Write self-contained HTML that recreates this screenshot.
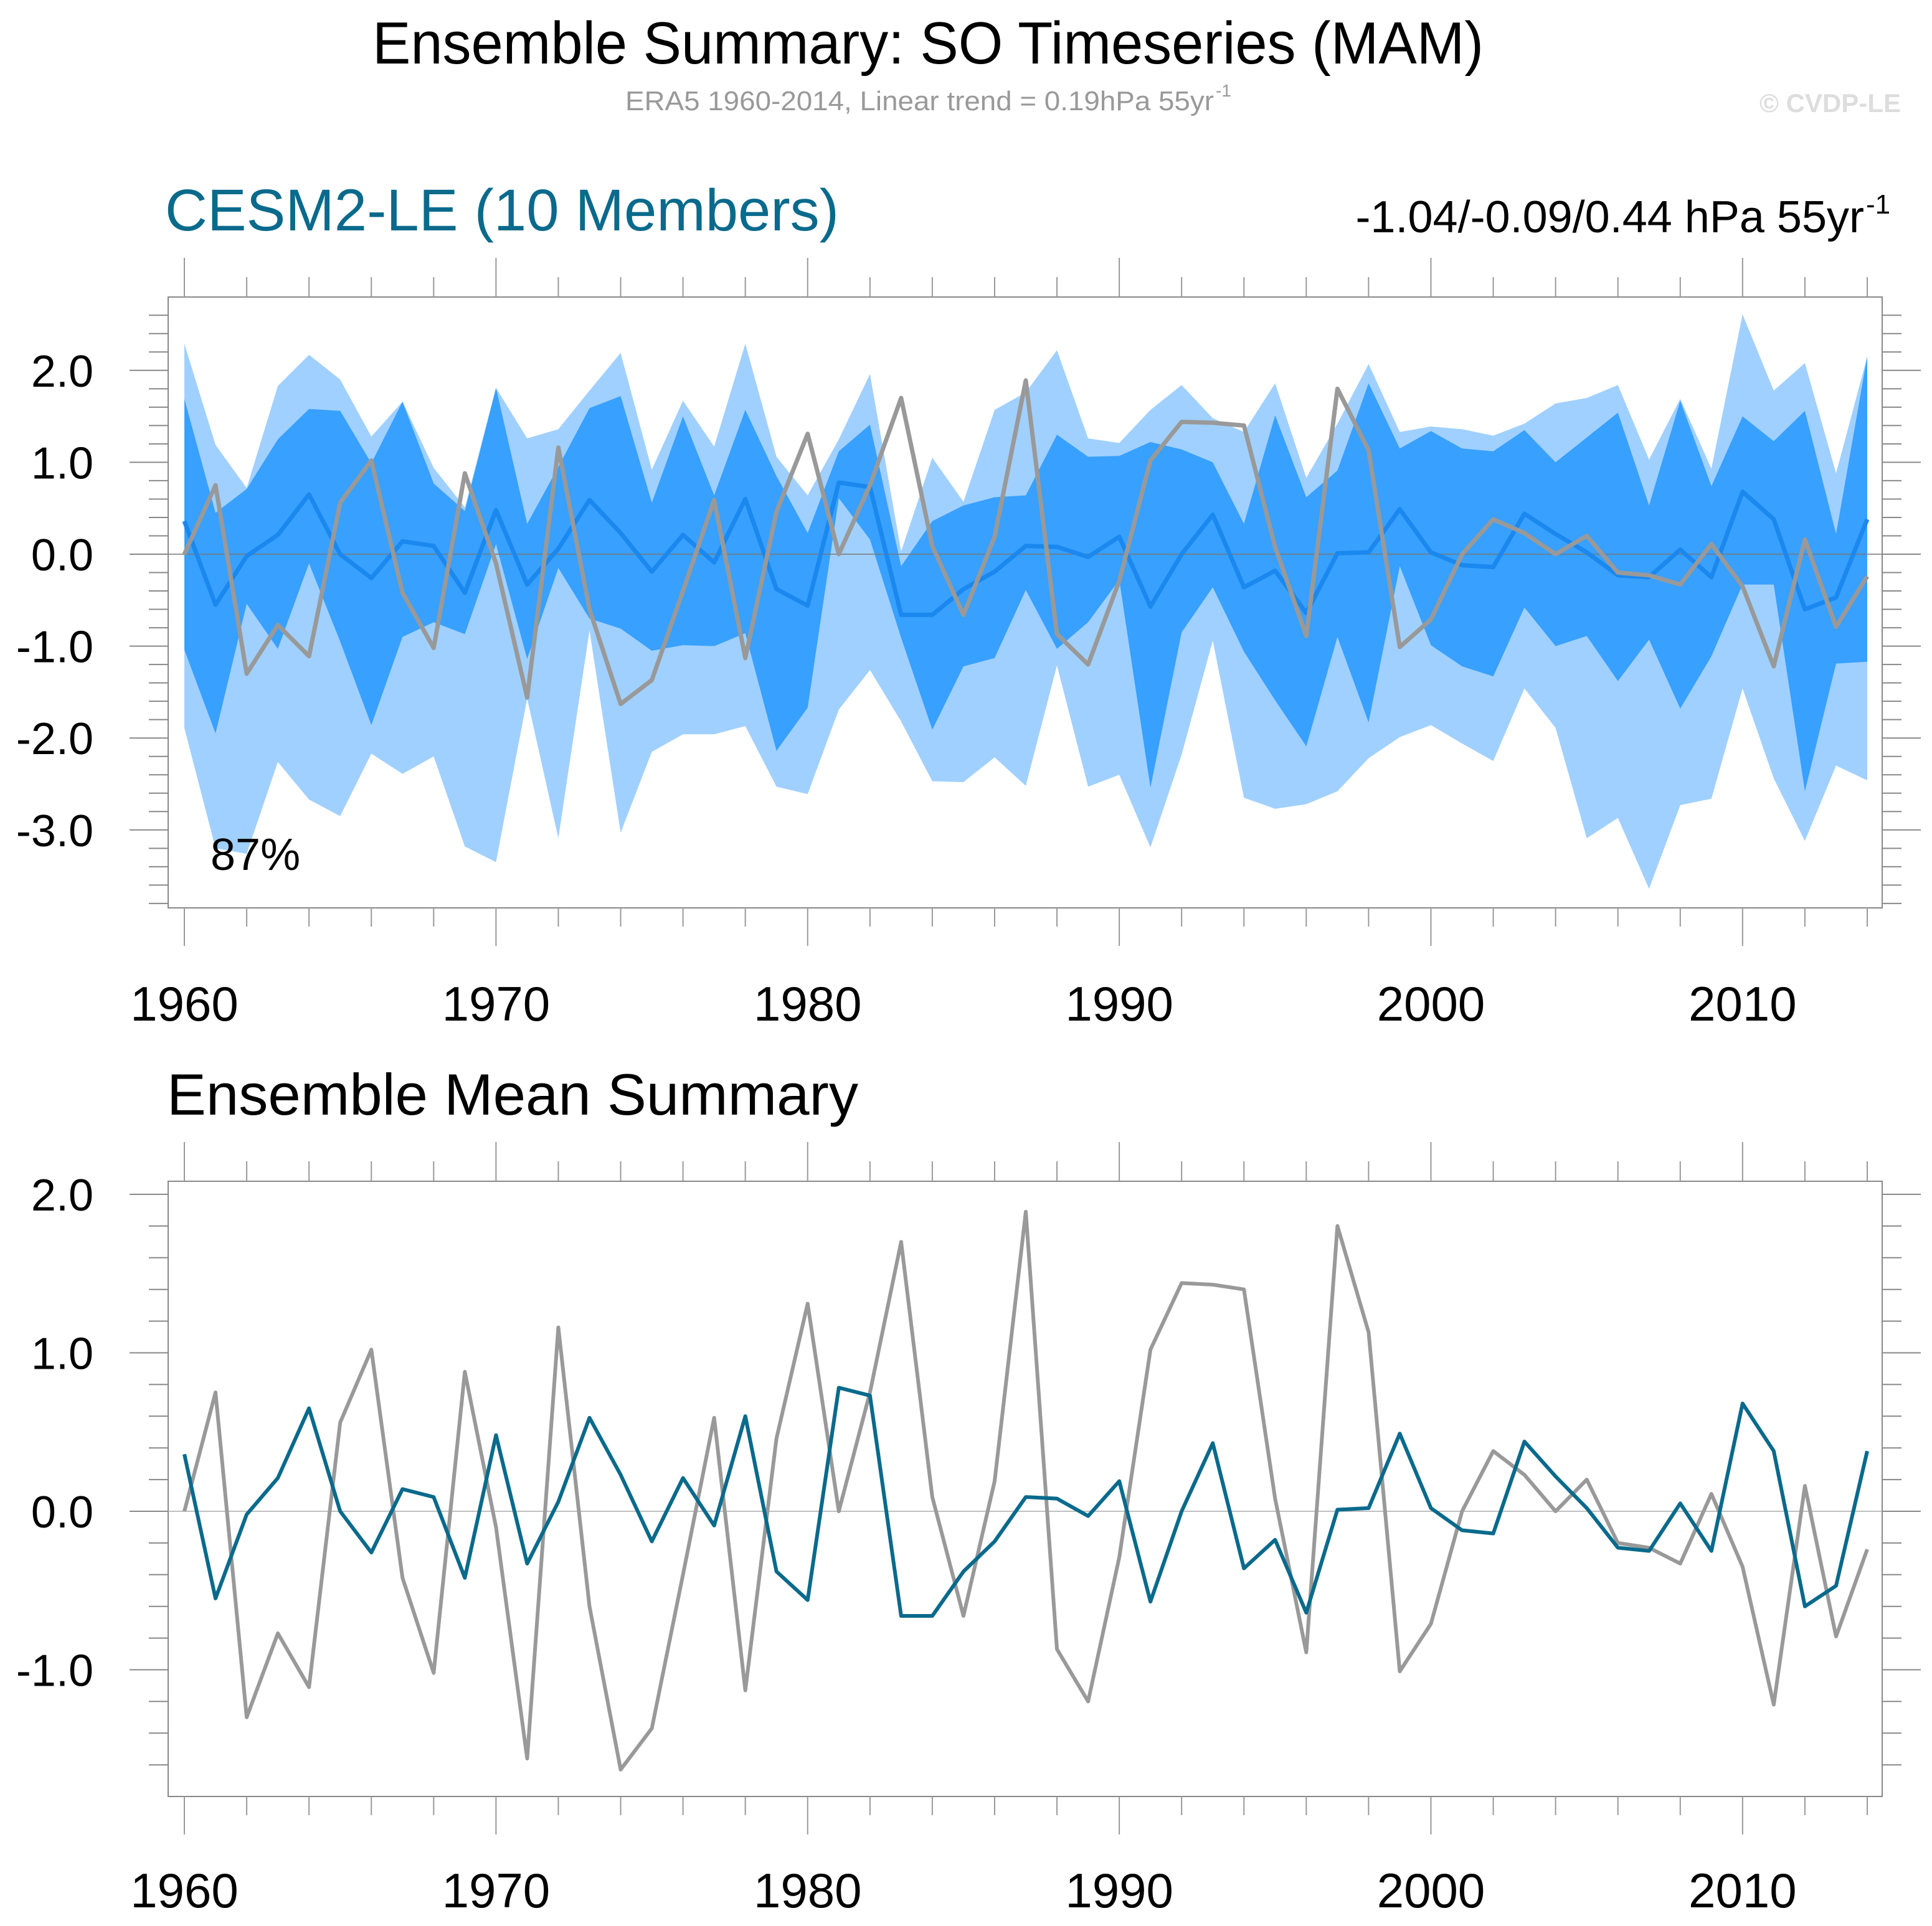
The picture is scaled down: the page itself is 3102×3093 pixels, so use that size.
<!DOCTYPE html>
<html><head><meta charset="utf-8"><style>
html,body{margin:0;padding:0;background:#fff;}
svg{display:block;font-family:"Liberation Sans",sans-serif;}
</style></head><body>
<svg id="chart" width="3102" height="3093" viewBox="0 0 3102 3093" xmlns="http://www.w3.org/2000/svg">
<text x="1490" y="102" font-size="96" text-anchor="middle" textLength="1784" lengthAdjust="spacingAndGlyphs">Ensemble Summary: SO Timeseries (MAM)</text>
<text x="1004" y="177" font-size="44" fill="#999" textLength="945" lengthAdjust="spacingAndGlyphs">ERA5 1960-2014, Linear trend = 0.19hPa 55yr</text>
<text x="1952" y="155" font-size="28" fill="#999">-1</text>
<text x="3052" y="180" font-size="42" font-weight="bold" fill="#ddd" text-anchor="end">© CVDP-LE</text>
<text x="265" y="370" font-size="95" fill="#0a6a8c" textLength="1082" lengthAdjust="spacingAndGlyphs">CESM2-LE (10 Members)</text>
<text x="2993" y="373" font-size="72" text-anchor="end">-1.04/-0.09/0.44 hPa 55yr</text>
<text x="2996" y="343" font-size="44">-1</text>
<text x="268" y="1790" font-size="94" textLength="1110" lengthAdjust="spacingAndGlyphs">Ensemble Mean Summary</text>
<g id="top"></g>
<g id="bot"></g>
</svg>
<script>
const years = [];
for (let y = 1960; y <= 2014; y++) years.push(y);
const obsValues = [0.0,0.75,-1.30,-0.77,-1.11,0.56,1.02,-0.42,-1.02,0.88,-0.1,-1.56,1.16,-0.60,-1.63,-1.37,-0.4,0.59,-1.13,0.46,1.31,0.0,0.75,1.70,0.09,-0.66,0.19,1.89,-0.87,-1.20,-0.29,1.02,1.44,1.43,1.40,0.08,-0.89,1.80,1.13,-1.01,-0.71,0.0,0.38,0.23,0.0,0.20,-0.20,-0.23,-0.33,0.11,-0.35,-1.22,0.16,-0.79,-0.24];
const ensMean = [0.36,-0.55,-0.02,0.21,0.65,0.0,-0.26,0.14,0.09,-0.42,0.48,-0.33,0.06,0.59,0.23,-0.19,0.21,-0.09,0.60,-0.38,-0.56,0.78,0.73,-0.66,-0.66,-0.38,-0.19,0.09,0.08,-0.03,0.19,-0.57,0.0,0.43,-0.36,-0.18,-0.64,0.01,0.02,0.49,0.02,-0.12,-0.14,0.44,0.22,0.02,-0.23,-0.25,0.05,-0.25,0.68,0.38,-0.60,-0.47,0.38];
const bandMax = [2.29,1.19,0.72,1.83,2.17,1.90,1.28,1.66,0.94,0.51,1.81,1.26,1.36,1.78,2.19,0.92,1.67,1.17,2.29,1.06,0.64,1.25,1.96,0.03,1.05,0.57,1.57,1.76,2.22,1.26,1.21,1.57,1.84,1.48,1.33,1.86,0.83,1.42,2.07,1.33,1.39,1.36,1.29,1.42,1.64,1.70,1.84,1.03,1.69,0.93,2.61,1.78,2.08,0.88,2.15];
const bandHi = [1.69,0.45,0.71,1.25,1.58,1.56,0.99,1.66,0.77,0.47,1.81,0.33,0.95,1.59,1.72,0.56,1.50,0.64,1.57,0.85,0.23,1.12,1.41,-0.13,0.36,0.53,0.62,0.64,1.30,1.06,1.07,1.22,1.14,1.00,0.33,1.51,0.62,0.91,1.86,1.15,1.34,1.15,1.12,1.35,1.00,1.27,1.54,0.53,1.67,0.74,1.50,1.23,1.56,0.22,2.15];
const bandLo = [-1.04,-1.95,-0.54,-1.03,-0.10,-0.95,-1.86,-0.90,-0.74,-0.87,0.11,-1.14,-0.15,-0.70,-0.81,-1.05,-0.99,-1.00,-0.86,-2.14,-1.67,0.61,0.16,-0.91,-1.91,-1.22,-1.13,-0.39,-1.03,-0.74,-0.28,-2.54,-0.85,-0.36,-1.06,-1.59,-2.09,-0.90,-1.83,-0.13,-0.99,-1.22,-1.33,-0.58,-1.00,-0.89,-1.38,-0.93,-1.68,-1.11,-0.33,-0.33,-2.58,-1.19,-1.17];
const bandMin = [-1.89,-3.2,-3.26,-2.26,-2.67,-2.85,-2.17,-2.39,-2.20,-3.18,-3.35,-1.57,-3.09,-0.83,-3.03,-2.15,-1.96,-1.96,-1.87,-2.53,-2.61,-1.69,-1.26,-1.82,-2.47,-2.48,-2.21,-2.52,-1.21,-2.53,-2.40,-3.19,-2.18,-0.94,-2.65,-2.77,-2.72,-2.58,-2.22,-1.99,-1.86,-2.06,-2.25,-1.46,-1.89,-3.09,-2.87,-3.64,-2.73,-2.66,-1.46,-2.44,-3.12,-2.30,-2.46];
const topYTicks = ["2.0","1.0","0.0","-1.0","-2.0","-3.0"];
const botYTicks = ["2.0","1.0","0.0","-1.0"];
const xTickLabels = ["1960","1970","1980","1990","2000","2010"];

const NS = "http://www.w3.org/2000/svg";
const X0 = 270, X1 = 3022;
function xs(yr){ return 296 + (yr - 1960) * (2998 - 296) / 54; }
function mk(tag, attrs, parent){ const e = document.createElementNS(NS, tag); for (const k in attrs) e.setAttribute(k, attrs[k]); parent.appendChild(e); return e; }

function panel(g, top, bot, y0, unit, yLabels, labelY){
  const ys = v => y0 - v * unit;
  const vTop = (y0 - top) / unit, vBot = (y0 - bot) / unit;
  const fr = mk('rect', {x:X0, y:top, width:X1-X0, height:bot-top, fill:'none', stroke:'#888', 'stroke-width':2}, g);
  
  
  for (let k = Math.ceil(vBot*5); k <= Math.floor(vTop*5); k++) {
    const v = k / 5, y = ys(v), major = (k % 5 === 0);
    const l = mk('line', {x1: major?208:239, x2:X0, y1:y, y2:y, stroke:'#888', 'stroke-width':2}, g);
    
    
    const r = mk('line', {x1:X1, x2: major?3084:3053, y1:y, y2:y, stroke:'#888', 'stroke-width':2}, g);
    
    
  }
  yLabels.forEach(s => {
    const t = mk('text', {x:150, y:ys(parseFloat(s)) + 26, 'font-size':72, 'text-anchor':'end'}, g);
    
    
    t.textContent = s;
  });
  years.forEach(yr => {
    if (yr % 2 !== 0) return;
    const x = xs(yr), major = (yr % 10 === 0);
    const a = mk('line', {x1:x, x2:x, y1: top - (major?63:32), y2: top, stroke:'#999', 'stroke-width':2}, g);
    
    
    const b = mk('line', {x1:x, x2:x, y1: bot, y2: bot + (major?61:30), stroke:'#999', 'stroke-width':2}, g);
    
    
  });
  xTickLabels.forEach(s => {
    const t = mk('text', {x:xs(parseInt(s)), y:labelY, 'font-size':78, 'text-anchor':'middle'}, g);
    
    
    t.textContent = s;
  });
  return ys;
}
function band(g, hi, lo, ys, fill, name){
  let d = '';
  hi.forEach((v,i) => d += (i?'L':'M') + xs(years[i]) + ',' + ys(v));
  for (let i = lo.length - 1; i >= 0; i--) d += 'L' + xs(years[i]) + ',' + ys(lo[i]);
  const p = mk('path', {d: d + 'Z', fill: fill}, g);
  
  
}
function line(g, vals, ys, color, w, name){
  const pts = vals.map((v,i) => xs(years[i]) + ',' + ys(v)).join(' ');
  const p = mk('polyline', {points: pts, fill:'none', stroke: color, 'stroke-width': w, 'stroke-linejoin':'round'}, g);
  
  
}

const gt = document.getElementById('top');
const ysT = panel(gt, 477, 1458, 890, 147.6, topYTicks, 1639);
band(gt, bandMax, bandMin, ysT, '#a0d0ff', 'ensemble-range-band');
band(gt, bandHi, bandLo, ysT, '#38a0ff', 'ensemble-spread-band');
const z1 = mk('line', {x1:X0, x2:X1, y1:ysT(0), y2:ysT(0), stroke:'#777', 'stroke-width':1.5}, gt);


line(gt, ensMean, ysT, '#1a88ee', 7, 'ensemble-mean-line');
line(gt, obsValues, ysT, '#999999', 7, 'era5-line');
const pct = mk('text', {x:338, y:1397, 'font-size':72}, gt);


pct.textContent = '87%';

const gb = document.getElementById('bot');
const ysB = panel(gb, 1897, 2885, 2427, 254.5, botYTicks, 3063);
const z2 = mk('line', {x1:X0, x2:X1, y1:ysB(0), y2:ysB(0), stroke:'#aaa', 'stroke-width':1.5}, gb);


line(gb, obsValues, ysB, '#999999', 6, 'era5-line');
line(gb, ensMean, ysB, '#0a6a8c', 6, 'ensemble-mean-line');
</script>
</body></html>
